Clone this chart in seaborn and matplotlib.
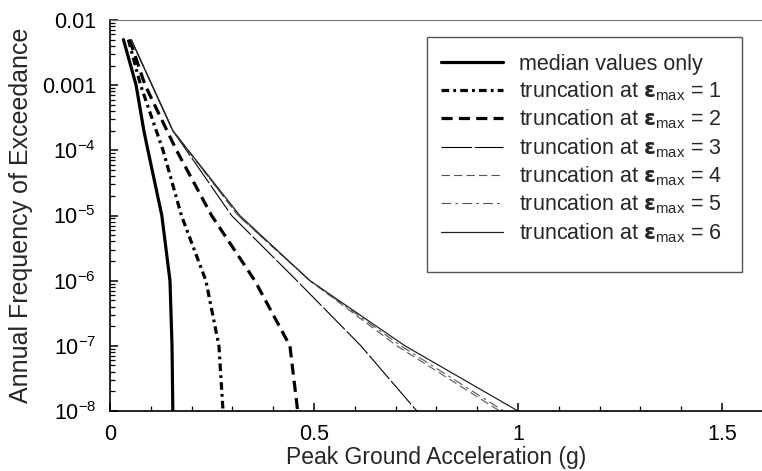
import numpy as np
import pandas as pd
import matplotlib
matplotlib.use("Agg")
import matplotlib.pyplot as plt
import seaborn as sns
from matplotlib.patches import Rectangle
from matplotlib.ticker import FixedLocator, FixedFormatter, LogLocator, NullFormatter

# ---- data ----
afe_levels7 = [5e-3, 1e-3, 1e-4, 1e-5, 1e-6, 1e-7, 1e-8]
afe_levels6 = [5e-3, 2e-4, 1e-5, 1e-6, 1e-7, 1e-8]

pga_median = [0.033, 0.064, 0.083, 0.093, 0.127, 0.147, 0.152, 0.154]
afe_median = [5e-3, 1e-3, 2e-4, 1e-4, 1e-5, 1e-6, 1e-7, 1e-8]

pga_eps1 = [0.045, 0.075, 0.130, 0.175, 0.235, 0.267, 0.277]
pga_eps2 = [0.048, 0.086, 0.163, 0.249, 0.355, 0.441, 0.460]
pga_eps3 = [0.052, 0.154, 0.298, 0.458, 0.615, 0.752]
pga_eps4 = [0.052, 0.154, 0.314, 0.490, 0.703, 0.955]
pga_eps5 = [0.052, 0.154, 0.314, 0.490, 0.713, 0.965]
pga_eps6 = [0.052, 0.154, 0.318, 0.490, 0.723, 1.000]

labels = ["median values only"] + [
    r"truncation at $\epsilon_{\mathregular{max}}$ = %d" % k for k in range(1, 7)]

x_ticks = [0, 0.5, 1, 1.5]
x_ticklabels = ["0", "0.5", "1", "1.5"]
y_ticks = [1e-2, 1e-3, 1e-4, 1e-5, 1e-6, 1e-7, 1e-8]
y_ticklabels = ["0.01", "0.001", r"$10^{-4}$", r"$10^{-5}$", r"$10^{-6}$", r"$10^{-7}$", r"$10^{-8}$"]

series = [
    (pga_median, afe_median),
    (pga_eps1, afe_levels7),
    (pga_eps2, afe_levels7),
    (pga_eps3, afe_levels6),
    (pga_eps4, afe_levels6),
    (pga_eps5, afe_levels6),
    (pga_eps6, afe_levels6),
]

# ---- style ----
sns.set_style("ticks")
plt.rcParams["font.family"] = ["Liberation Sans", "DejaVu Sans"]
plt.rcParams["mathtext.fontset"] = "custom"
plt.rcParams["mathtext.rm"] = "Liberation Sans"
plt.rcParams["mathtext.it"] = "DejaVu Sans:bold"
plt.rcParams["mathtext.bf"] = "Liberation Sans:bold"
plt.rcParams["mathtext.fallback"] = "cm"
plt.rcParams["lines.scale_dashes"] = False
plt.rcParams.update({
    "xtick.bottom": True, "ytick.left": True,
    "xtick.direction": "in", "ytick.direction": "in",
    "xtick.color": "black", "ytick.color": "black",
    "xtick.major.size": 6, "ytick.major.size": 6,
    "xtick.minor.size": 3.5, "ytick.minor.size": 3.5,
    "xtick.major.width": 1.1, "ytick.major.width": 1.1,
    "xtick.minor.width": 0.9, "ytick.minor.width": 0.9,
    "xtick.minor.visible": True, "ytick.minor.visible": True,
})

styles = [
    dict(color="black", lw=2.3, ls="-"),
    dict(color="black", lw=2.3, ls=(0, (5.5, 3, 2, 3))),
    dict(color="black", lw=2.3, ls=(0, (8, 4.5))),
    dict(color="black", lw=0.8, ls=(0, (22, 2))),
    dict(color="#555555", lw=0.8, ls=(0, (6, 3))),
    dict(color="#555555", lw=0.8, ls=(0, (7, 3, 2, 3))),
    dict(color="#222222", lw=0.9, ls="-"),
]

fig = plt.figure(figsize=(7.62, 4.71), dpi=100)
W, H = 762, 471
ax = fig.add_axes([110 / W, (H - 411) / H, (W - 110) / W, (411 - 20) / H])

for (xs, ys), st, lab in zip(series, styles, labels):
    df = pd.DataFrame({"pga": xs, "afe": ys})
    sns.lineplot(data=df, x="pga", y="afe", ax=ax, estimator=None, sort=False,
                 color=st["color"], linewidth=st["lw"], linestyle=st["ls"], label=lab)

ax.set_yscale("log")
ax.set_xlim(0, (W - 110) / 408)
ax.set_ylim(1e-8, 1e-2)

ax.xaxis.set_major_locator(FixedLocator(x_ticks))
ax.xaxis.set_major_formatter(FixedFormatter(x_ticklabels))
ax.xaxis.set_minor_locator(FixedLocator(np.arange(0, 1.61, 0.1)))
ax.yaxis.set_major_locator(FixedLocator(y_ticks))
ax.yaxis.set_major_formatter(FixedFormatter(y_ticklabels))
ax.yaxis.set_minor_locator(LogLocator(base=10, subs=np.arange(2, 10), numticks=20))
ax.yaxis.set_minor_formatter(NullFormatter())

ax.tick_params(which="both", direction="in", colors="black", labelsize=15.5,
               bottom=True, left=True, top=False, right=False)
ax.tick_params(which="major", length=6, width=1.1)
ax.tick_params(which="minor", length=3.5, width=0.9)
ax.tick_params(axis="x", which="major", pad=9)
ax.tick_params(axis="y", which="major", pad=10)

for s in ["left", "bottom"]:
    ax.spines[s].set_color("black")
    ax.spines[s].set_linewidth(1.2)
ax.spines["top"].set_visible(True)
ax.spines["top"].set_color("#777777")
ax.spines["top"].set_linewidth(0.8)
ax.spines["right"].set_visible(False)

ax.set_xlabel("Peak Ground Acceleration (g)", fontsize=16.5, labelpad=1)
ax.set_ylabel("Annual Frequency of Exceedance", fontsize=18)
ax.yaxis.set_label_coords(-(110 - 33) / (W - 110), 0.5)

leg = ax.legend(loc="upper left",
                bbox_to_anchor=((430 - 110) / (W - 110), (411 - 43) / 391),
                fontsize=15.5, frameon=False,
                handlelength=2.9, handletextpad=0.75, labelspacing=0.22,
                borderpad=0.5, borderaxespad=0)
# legend box drawn as a plain rectangle (square corners, taller bottom margin)
fig.add_artist(Rectangle((427 / W, (H - 272) / H), (742 - 427) / W, (272 - 37) / H,
                         transform=fig.transFigure, fill=False,
                         edgecolor="#555555", linewidth=1.0, zorder=5))

fig.savefig("out.png", dpi=100)
